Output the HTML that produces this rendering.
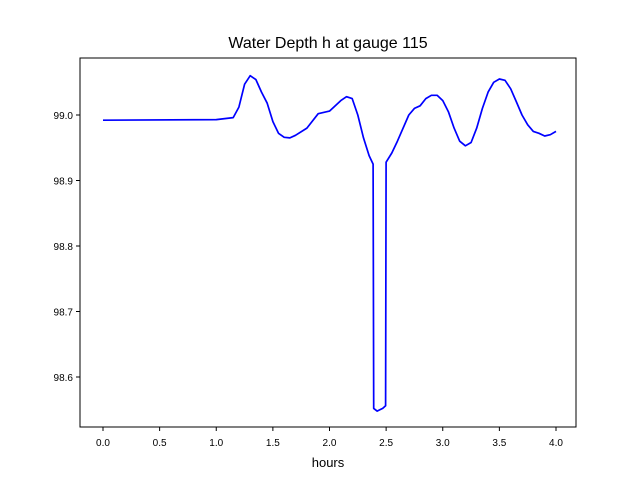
<!DOCTYPE html>
<html><head><meta charset="utf-8"><style>
body{margin:0;background:#fff}
svg{display:block;font-family:"Liberation Sans","DejaVu Sans",sans-serif}
</style></head><body>
<svg id="c" width="640" height="480">
<rect x="0" y="0" width="640" height="480" fill="#fff"/>
<text x="328" y="48" font-size="16" text-anchor="middle">Water Depth h at gauge 115</text>
<text x="328" y="467" font-size="13" text-anchor="middle">hours</text>
<g id="ticks"></g>
<path id="line" fill="none" stroke="#0000ff" stroke-width="1.7" stroke-linejoin="round"/>
<rect x="80" y="58" width="496" height="369" fill="none" stroke="#000" stroke-width="1"/>
</svg>
<script>
const hours=[0,1.0,1.15,1.2,1.25,1.3,1.35,1.4,1.45,1.5,1.55,1.6,1.65,1.7,1.8,1.9,2.0,2.1,2.15,2.2,2.25,2.3,2.35,2.385,2.39,2.42,2.47,2.495,2.5,2.55,2.6,2.7,2.75,2.8,2.85,2.9,2.95,3.0,3.05,3.1,3.15,3.2,3.25,3.3,3.35,3.4,3.45,3.5,3.55,3.6,3.65,3.7,3.75,3.8,3.85,3.9,3.95,4.0];
const depth=[98.992,98.993,98.996,99.012,99.047,99.06,99.054,99.035,99.018,98.99,98.972,98.966,98.965,98.969,98.98,99.002,99.006,99.022,99.028,99.025,99.0,98.965,98.938,98.925,98.552,98.548,98.552,98.556,98.928,98.942,98.96,99.0,99.01,99.014,99.025,99.03,99.03,99.022,99.005,98.98,98.96,98.953,98.958,98.98,99.01,99.035,99.05,99.055,99.053,99.04,99.02,99.0,98.985,98.975,98.972,98.968,98.97,98.975];
const xTicks=[0,0.5,1.0,1.5,2.0,2.5,3.0,3.5,4.0];
const xTickLabels=["0.0","0.5","1.0","1.5","2.0","2.5","3.0","3.5","4.0"];
const yTicks=[98.6,98.7,98.8,98.9,99.0];
const yTickLabels=["98.6","98.7","98.8","98.9","99.0"];
const X=v=>103+v*113.25;
const Y=v=>115-(v-99.0)*655;
const ns="http://www.w3.org/2000/svg";
const g=document.getElementById('ticks');
function mk(t,a){const e=document.createElementNS(ns,t);for(const k in a)e.setAttribute(k,a[k]);g.appendChild(e);return e;}
xTicks.forEach((v,i)=>{
 const l=mk('line',{x1:X(v),x2:X(v),y1:427,y2:431,stroke:'#000'});
 
 
 const t=mk('text',{x:X(v),y:446,'font-size':10,'text-anchor':'middle'});
 t.textContent=xTickLabels[i];
 
 
});
yTicks.forEach((v,i)=>{
 const l=mk('line',{x1:76,x2:80,y1:Y(v),y2:Y(v),stroke:'#000'});
 
 
 const t=mk('text',{x:73,y:Y(v)+4,'font-size':10,'text-anchor':'end'});
 t.textContent=yTickLabels[i];
 
 
});
document.getElementById('line').setAttribute('d',hours.map((h,i)=>(i?'L':'M')+X(h).toFixed(1)+','+Y(depth[i]).toFixed(1)).join(''));
</script>
</body></html>
